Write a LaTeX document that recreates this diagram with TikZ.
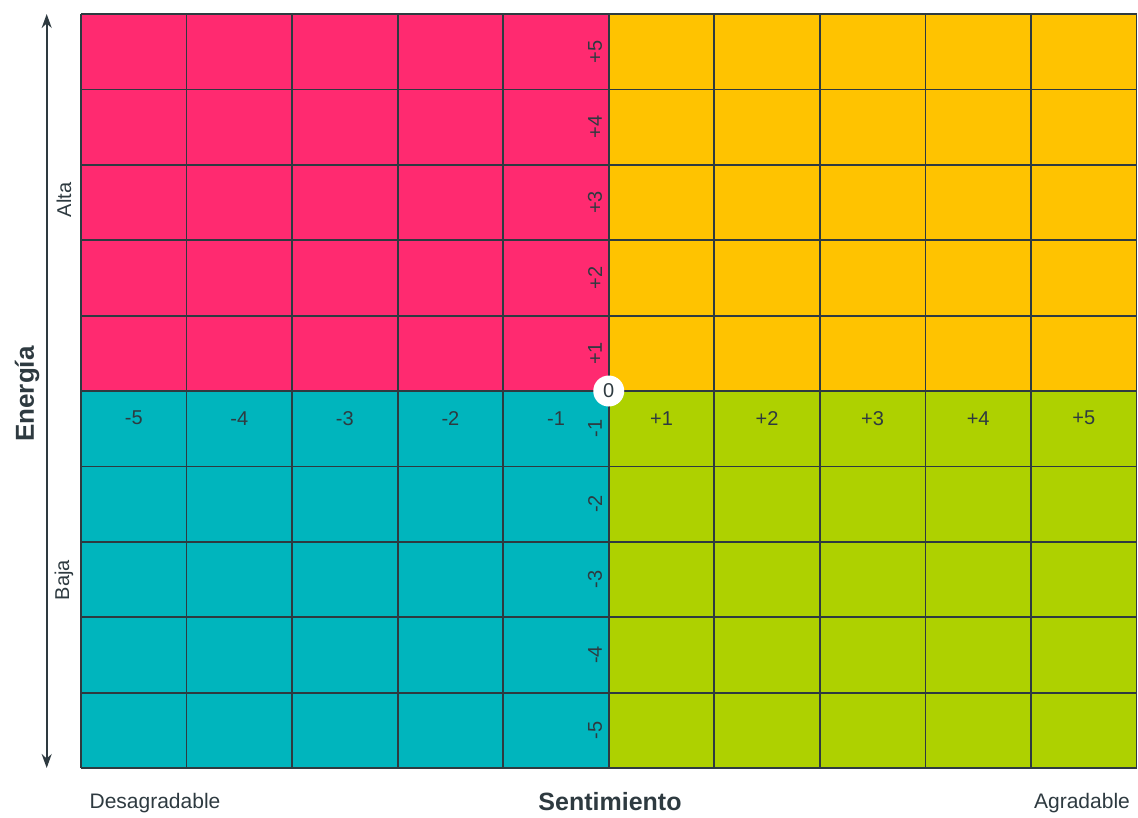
\documentclass[tikz,border=0pt]{standalone}
\usepackage{fontspec}
\setmainfont{Liberation Sans}
\usepackage{xcolor}
\usetikzlibrary{arrows.meta}
\definecolor{pinkq}{HTML}{FF2A70}
\definecolor{yellowq}{HTML}{FFC300}
\definecolor{tealq}{HTML}{00B5BD}
\definecolor{greenq}{HTML}{AED100}
\definecolor{inkq}{HTML}{2E3A40}
\tikzset{
  gridline/.style={draw=inkq, line width=1.8pt},
  tick/.style={text=inkq, font=\fontsize{20}{24}\selectfont, inner sep=1pt},
  side/.style={text=inkq, font=\fontsize{20}{24}\selectfont, rotate=90},
}
\begin{document}
\begin{tikzpicture}[x=1pt, y=-1pt]
\useasboundingbox (0,0) rectangle (1138,817);
% grid of feeling and energy
\begin{scope}[shift={(81,14)}, x=105.55pt, y=-75.4pt]
\fill[pinkq] (0,0) rectangle (5,5);
\fill[yellowq] (5,0) rectangle (10,5);
\fill[tealq] (0,5) rectangle (5,10);
\fill[greenq] (5,5) rectangle (10,10);
\foreach \k in {0,...,10} {
  \draw[gridline] (\k,0) -- (\k,10);
  \draw[gridline] (0,\k) -- (10,\k);
}
% horizontal scale
\foreach \i in {1,...,5} {
  \node[tick] (neg\i) at (5.5-\i,5.36) {-\i};
  \node[tick] (pos\i) at (4.5+\i,5.36) {+\i};
}
% vertical scale
\foreach \i in {1,...,5} {
  \node[tick, rotate=90] (up\i) at (4.87,5.5-\i) {+\i};
  \node[tick, rotate=90] (down\i) at (4.87,4.5+\i) {-\i};
}
\node[circle, fill=white, minimum size=31pt, inner sep=0pt, text=inkq,
  font=\fontsize{20}{24}\selectfont] (zero) at (5,5) {0};
\coordinate (top) at (-0.325,0);
\coordinate (bottom) at (-0.325,10);
\end{scope}
% energy axis
\draw[inkq, line width=1.8pt, {Stealth[length=14pt, width=10pt]}-{Stealth[length=14pt, width=10pt]}] (top) -- (bottom);
\node[side] (alta) at (64,200) {Alta};
\node[side] (baja) at (64,580) {Baja};
\node[side, font=\fontsize{26}{30}\selectfont\bfseries] (energia) at (27,394) {Energía};
% feeling axis
\node[text=inkq, font=\fontsize{21}{24}\selectfont] (desagradable) at (155,803) {Desagradable};
\node[text=inkq, inner sep=0pt, font=\fontsize{25}{28}\selectfont\bfseries] (sentimiento) at (610,802) {Sentimiento};
\node[text=inkq, font=\fontsize{21}{24}\selectfont] (agradable) at (1082,803) {Agradable};
\end{tikzpicture}
\end{document}
